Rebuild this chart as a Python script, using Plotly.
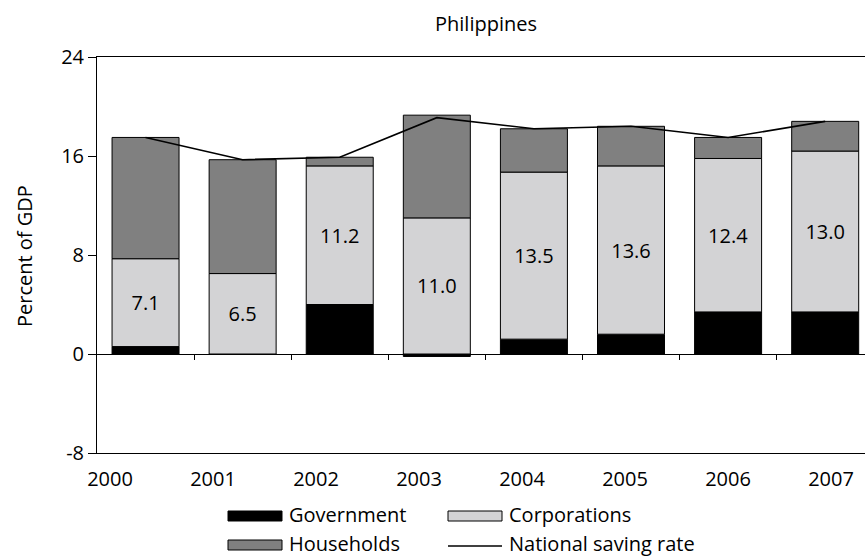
import plotly.graph_objects as go

# Philippines: saving by sector, percent of GDP
years = ["2000", "2001", "2002", "2003", "2004", "2005", "2006", "2007"]
government = [0.6, 0.0, 4.0, -0.2, 1.2, 1.6, 3.4, 3.4]
corporations = [7.1, 6.5, 11.2, 11.0, 13.5, 13.6, 12.4, 13.0]
households = [9.8, 9.2, 0.7, 8.3, 3.5, 3.2, 1.7, 2.4]
national_saving = [17.5, 15.7, 15.9, 19.1, 18.2, 18.4, 17.5, 18.8]
y_ticks = [-8, 0, 8, 16, 24]
y_tick_text = ["-8", "0", "8", "16", "24"]

series_names = ["Government", "Corporations", "Households", "National saving rate"]

W, H = 865, 558
L, R, T, B = 97, 0, 57, 105
PW, PH = W - L - R, H - T - B
FONT = "Open Sans"
FS = 20

GOV_C = "#000000"
CORP_C = "#d3d3d5"
HH_C = "#808080"

def px_x(px):
    return (px - L) / PW

def px_y(py):
    return (H - B - py) / PH

idx = list(range(len(years)))
x_range = [-0.5, 7.41]
y_range = [-8, 24]

fig = go.Figure()
bar_line = dict(color="#000000", width=1)
fig.add_trace(go.Bar(x=idx, y=government, name=series_names[0], width=0.69,
                     marker=dict(color=GOV_C, line=bar_line), showlegend=False))
fig.add_trace(go.Bar(x=idx, y=corporations, name=series_names[1], width=0.69,
                     marker=dict(color=CORP_C, line=bar_line),
                     text=[f"{v:.1f}" for v in corporations],
                     textposition="inside", insidetextanchor="middle", textangle=0,
                     textfont=dict(family=FONT, size=FS, color="#000000"),
                     showlegend=False))
fig.add_trace(go.Bar(x=idx, y=households, name=series_names[2], width=0.69,
                     marker=dict(color=HH_C, line=bar_line), showlegend=False))
fig.add_trace(go.Scatter(x=idx, y=national_saving, name=series_names[3], mode="lines",
                         line=dict(color="#000000", width=1.6),
                         xaxis="x2", yaxis="y", showlegend=False))

# year labels sit on their own evenly spaced slots along the bottom edge
label_step = 103 / PW * (x_range[1] - x_range[0])
label_start = x_range[0] + (110 - L) / PW * (x_range[1] - x_range[0])
label_pos = [label_start + i * label_step for i in idx]

fig.update_layout(
    width=W, height=H,
    margin=dict(l=L, r=R, t=T, b=B, pad=0),
    paper_bgcolor="white", plot_bgcolor="white",
    barmode="relative", bargap=0.31,
    font=dict(family=FONT, size=FS, color="#000000"),
    title=dict(text="Philippines", x=486 / W, xanchor="center",
               y=1 - 24 / H, yanchor="middle",
               font=dict(family=FONT, size=FS, color="#000000")),
    xaxis=dict(range=x_range, domain=[0, 1], tickvals=label_pos, ticktext=years,
               ticks="", ticklabelstandoff=8, showgrid=False, zeroline=False,
               showline=True, linecolor="#000000", linewidth=1, mirror=True,
               tickfont=dict(family=FONT, size=FS, color="#000000")),
    xaxis2=dict(range=x_range, overlaying="x", anchor="free",
                position=(0 - y_range[0]) / (y_range[1] - y_range[0]),
                tickvals=[i + 0.5 for i in idx[:-1]], ticks="outside", ticklen=5,
                tickcolor="#000000", tickwidth=1, showticklabels=False,
                showgrid=False, zeroline=False, showline=True,
                linecolor="#000000", linewidth=1),
    yaxis=dict(range=y_range, domain=[0, 1], tickvals=y_ticks, ticktext=y_tick_text,
               ticks="outside", ticklen=8, tickcolor="#000000", tickwidth=1,
               showgrid=False, zeroline=False, showline=True,
               linecolor="#000000", linewidth=1,
               tickfont=dict(family=FONT, size=FS, color="#000000")),
)

# axis title
fig.add_annotation(text="Percent of GDP", xref="paper", yref="paper",
                   x=px_x(24), y=px_y(256), textangle=-90, showarrow=False,
                   xanchor="center", yanchor="middle",
                   font=dict(family=FONT, size=FS, color="#000000"))

# legend, two columns by two rows below the plot
legend_items = [
    (series_names[0], "box", GOV_C, 228, 514),
    (series_names[1], "box", CORP_C, 448, 514),
    (series_names[2], "box", HH_C, 228, 543),
    (series_names[3], "line", "#000000", 448, 543),
]
sym_w, sym_h = 54, 10
for name, kind, color, x0, yc in legend_items:
    if kind == "box":
        fig.add_shape(type="rect", xref="paper", yref="paper",
                      x0=px_x(x0), x1=px_x(x0 + sym_w),
                      y0=px_y(yc + sym_h / 2 + 2), y1=px_y(yc - sym_h / 2 + 2),
                      fillcolor=color, line=dict(color="#000000", width=1))
    else:
        fig.add_shape(type="line", xref="paper", yref="paper",
                      x0=px_x(x0), x1=px_x(x0 + sym_w),
                      y0=px_y(yc + 3), y1=px_y(yc + 3),
                      line=dict(color="#000000", width=1.6))
    fig.add_annotation(text=name, xref="paper", yref="paper",
                       x=px_x(x0 + sym_w + 5), y=px_y(yc), showarrow=False,
                       xanchor="left", yanchor="middle",
                       font=dict(family=FONT, size=FS, color="#000000"))

fig.write_html("out.html")
